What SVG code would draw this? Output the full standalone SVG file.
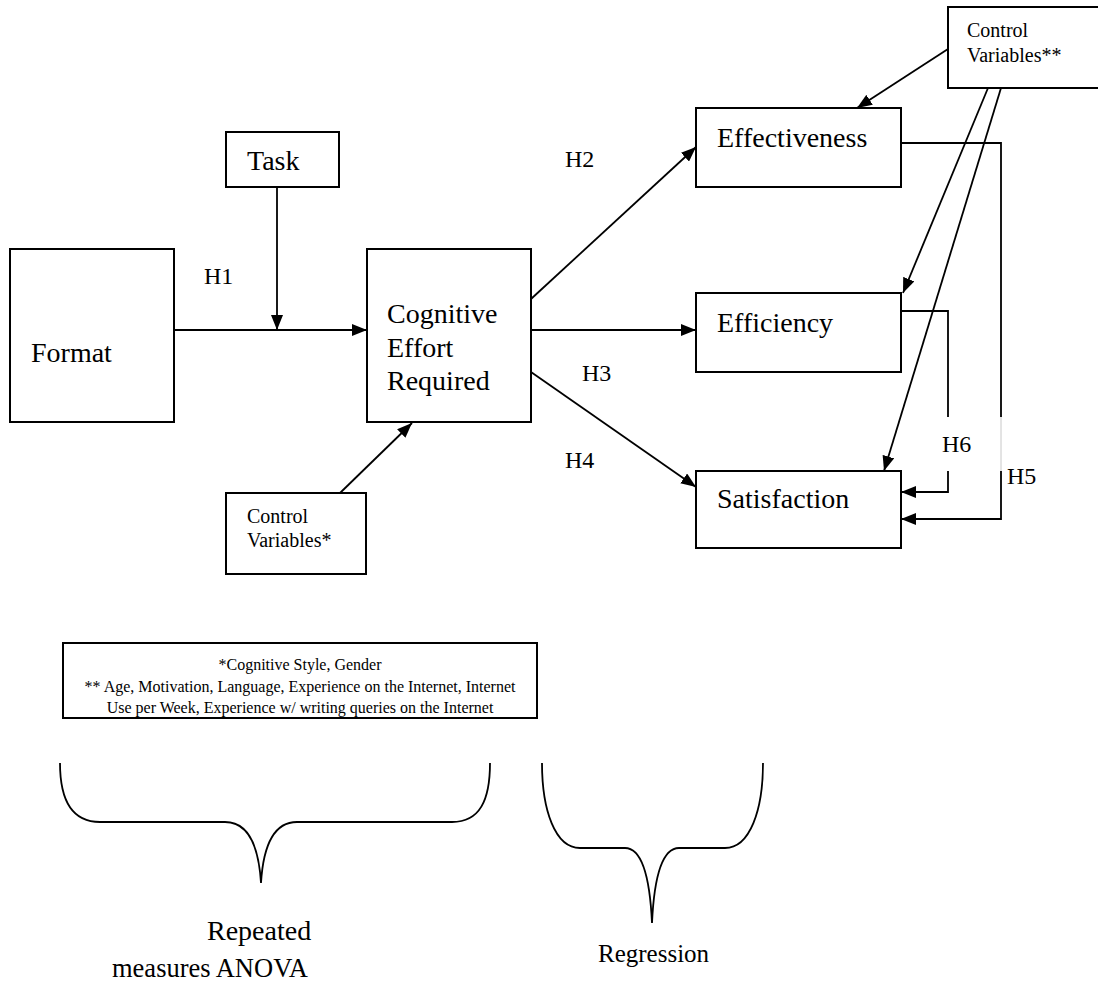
<svg xmlns="http://www.w3.org/2000/svg" width="1098" height="984" viewBox="0 0 1098 984">
  <style>
    .box { fill: #fff; stroke: #000; stroke-width: 2; }
    .ln { fill: none; stroke: #000; stroke-width: 1.8; }
    .faint { fill: none; stroke: #c8c8c8; stroke-width: 1; }
    .t { font-family: "Liberation Serif", "Times New Roman", serif; fill: #000; }
    .big { font-size: 28px; }
    .hyp { font-size: 24px; }
    .small { font-size: 20px; }
    .note { font-size: 16px; text-anchor: middle; }
  </style>
  <defs>
    <marker id="arrow" viewBox="0 0 15 12" refX="15" refY="6" markerWidth="15" markerHeight="12" markerUnits="userSpaceOnUse" orient="auto">
      <path d="M0,0 L15,6 L0,12 Z" fill="#000"/>
    </marker>
  </defs>
  <rect width="1098" height="984" fill="#fff"/>

  <!-- connectors -->
  <g id="connectors">
    <line class="ln" x1="174" y1="330" x2="367" y2="330" marker-end="url(#arrow)"/>
    <line class="ln" x1="277" y1="187" x2="277" y2="330" marker-end="url(#arrow)"/>
    <line class="ln" x1="340" y1="493" x2="412" y2="423" marker-end="url(#arrow)"/>
    <line class="ln" x1="531" y1="299" x2="696" y2="147" marker-end="url(#arrow)"/>
    <line class="ln" x1="531" y1="330" x2="696" y2="330" marker-end="url(#arrow)"/>
    <line class="ln" x1="531" y1="372" x2="696" y2="487" marker-end="url(#arrow)"/>
    <line class="ln" x1="948" y1="49" x2="857" y2="108" marker-end="url(#arrow)"/>
    <line class="ln" x1="988" y1="88" x2="903" y2="293" marker-end="url(#arrow)"/>
    <line class="ln" x1="1001" y1="88" x2="884" y2="471" marker-end="url(#arrow)"/>
    <!-- H6 path: Efficiency to Satisfaction -->
    <polyline class="ln" points="901,311 948,311 948,417"/>
    <polyline class="ln" points="948,471 948,492 901,492" marker-end="url(#arrow)"/>
    <!-- H5 path: Effectiveness to Satisfaction -->
    <polyline class="ln" points="901,143 1001,143 1001,417"/>
    <line class="faint" x1="1001" y1="417" x2="1001" y2="471"/>
    <polyline class="ln" points="1001,471 1001,519 901,519" marker-end="url(#arrow)"/>
  </g>

  <!-- nodes -->
  <g id="format">
    <rect class="box" x="10" y="249" width="164" height="173"/>
    <text class="t big" x="31" y="362">Format</text>
  </g>
  <g id="task">
    <rect class="box" x="226" y="132" width="113" height="55"/>
    <text class="t big" x="247" y="170">Task</text>
  </g>
  <g id="cognitive">
    <rect class="box" x="367" y="249" width="164" height="173"/>
    <text class="t big" x="387" y="323">Cognitive</text>
    <text class="t big" x="387" y="357">Effort</text>
    <text class="t big" x="387" y="390">Required</text>
  </g>
  <g id="control-a">
    <rect class="box" x="226" y="493" width="140" height="81"/>
    <text class="t small" x="247" y="523">Control</text>
    <text class="t small" x="247" y="547">Variables*</text>
  </g>
  <g id="effectiveness">
    <rect class="box" x="696" y="108" width="205" height="79"/>
    <text class="t big" x="717" y="147">Effectiveness</text>
  </g>
  <g id="efficiency">
    <rect class="box" x="696" y="293" width="205" height="79"/>
    <text class="t big" x="717" y="332">Efficiency</text>
  </g>
  <g id="satisfaction">
    <rect class="box" x="696" y="471" width="205" height="77"/>
    <text class="t big" x="717" y="508">Satisfaction</text>
  </g>
  <g id="control-b">
    <rect class="box" x="948" y="7" width="160" height="81"/>
    <text class="t small" x="967" y="37">Control</text>
    <text class="t small" x="967" y="62">Variables**</text>
  </g>

  <!-- hypothesis labels -->
  <g id="labels">
    <text class="t hyp" x="204" y="284">H1</text>
    <text class="t hyp" x="565" y="167">H2</text>
    <text class="t hyp" x="582" y="381">H3</text>
    <text class="t hyp" x="565" y="468">H4</text>
    <text class="t hyp" x="942" y="452">H6</text>
    <text class="t hyp" x="1007" y="484">H5</text>
  </g>

  <!-- legend -->
  <g id="legend">
    <rect class="box" x="63" y="643" width="474" height="75"/>
    <text class="t note" x="300" y="670">*Cognitive Style, Gender</text>
    <text class="t note" x="300" y="692">** Age, Motivation, Language, Experience on the Internet, Internet</text>
    <text class="t note" x="300" y="713">Use per Week, Experience w/ writing queries on the Internet</text>
  </g>

  <!-- analysis braces -->
  <g id="anova">
    <path class="ln" d="M60,763 C60,800 72,822 100,822 L225,822 C250,822 259,850 261,883 C263,850 272,822 297,822 L452,822 C480,822 490,800 490,763"/>
    <text class="t big" x="207" y="940">Repeated</text>
    <text class="t big" x="112" y="977" textLength="196" lengthAdjust="spacingAndGlyphs">measures ANOVA</text>
  </g>
  <g id="regression">
    <path class="ln" d="M542,763 C542,810 555,848 580,848 L625,848 C643,848 650,880 652,923 C654,880 661,848 679,848 L725,848 C750,848 763,810 763,763"/>
    <text class="t" style="font-size:25px" x="598" y="962">Regression</text>
  </g>
</svg>
